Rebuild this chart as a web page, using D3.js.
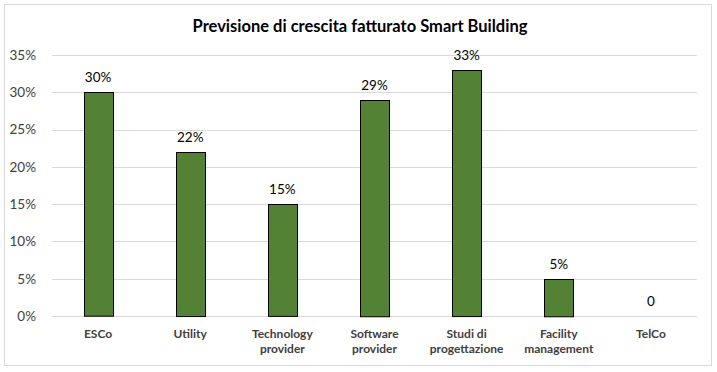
<!DOCTYPE html>
<html>
<head>
<meta charset="utf-8">
<script src="https://cdn.jsdelivr.net/npm/d3@7"></script>
<style>
  body { margin: 0; background: #fff; }
  svg { font-family: Lato, "Open Sans", sans-serif; }
</style>
</head>
<body>
<svg id="chart" width="717" height="372"></svg>
<script>
const categories = [
  ["ESCo"],
  ["Utility"],
  ["Technology", "provider"],
  ["Software", "provider"],
  ["Studi di", "progettazione"],
  ["Facility", "management"],
  ["TelCo"],
];
const values = [0.30, 0.22, 0.15, 0.29, 0.33, 0.05, 0];
const valueLabels = ["30%", "22%", "15%", "29%", "33%", "5%", "0"];
const yTicks = [0, 0.05, 0.10, 0.15, 0.20, 0.25, 0.30, 0.35];
const title = "Previsione di crescita fatturato Smart Building";

const svg = d3.select("#chart");
const W = 717, H = 372;
const m = { top: 55, right: 20, bottom: 56, left: 52 };

// chart frame
svg.append("rect")
  .attr("x", 4.5).attr("y", 4.5)
  .attr("width", W - 10).attr("height", H - 11)
  .attr("fill", "#fff").attr("stroke", "#d9d9d9");

svg.append("text")
  .attr("x", 360).attr("y", 32)
  .attr("text-anchor", "middle")
  .attr("font-size", 16.5).attr("font-weight", "bold")
  .attr("fill", "#000")
  .text(title);

const x = d3.scaleBand()
  .domain(d3.range(categories.length))
  .range([m.left, W - m.right])
  .paddingInner(0.685).paddingOuter(0.3425);

const y = d3.scaleLinear()
  .domain([0, 0.35])
  .range([H - m.bottom, m.top]);

// gridlines
svg.append("g")
  .selectAll("line")
  .data(yTicks)
  .join("line")
  .attr("x1", m.left).attr("x2", W - m.right)
  .attr("y1", d => Math.round(y(d)) + 0.5)
  .attr("y2", d => Math.round(y(d)) + 0.5)
  .attr("stroke", "#d9d9d9");

// y axis labels
const yAxis = svg.append("g")
  .attr("transform", `translate(${m.left - 13},0)`)
  .call(d3.axisLeft(y).tickValues(yTicks).tickFormat(d3.format(".0%")).tickSize(0));
yAxis.select(".domain").remove();
yAxis.selectAll("text")
  .attr("font-family", "Lato, 'Open Sans', sans-serif")
  .attr("font-size", 13.5).attr("fill", "#404040")
  .attr("dx", 0);

// bars
svg.append("g")
  .selectAll("rect")
  .data(values)
  .join("rect")
  .attr("x", (d, i) => Math.round(x(i)) + 0.5)
  .attr("y", d => Math.round(y(d)) + 0.5)
  .attr("width", x.bandwidth())
  .attr("height", d => y(0) - y(d))
  .attr("fill", "#548235")
  .attr("stroke", "#000")
  .attr("stroke-width", 1)
  .attr("display", d => d > 0 ? null : "none");

// value labels
svg.append("g")
  .selectAll("text")
  .data(values)
  .join("text")
  .attr("x", (d, i) => x(i) + x.bandwidth() / 2)
  .attr("y", d => y(d) - 10)
  .attr("text-anchor", "middle")
  .attr("font-size", 13.5).attr("fill", "#000")
  .text((d, i) => valueLabels[i]);

// category labels
const cat = svg.append("g")
  .selectAll("text")
  .data(categories)
  .join("text")
  .attr("x", (d, i) => x(i) + x.bandwidth() / 2)
  .attr("y", y(0) + 22)
  .attr("text-anchor", "middle")
  .attr("font-size", 12).attr("font-weight", "bold")
  .attr("fill", "#404040");
cat.selectAll("tspan")
  .data(d => d)
  .join("tspan")
  .attr("x", function () { return d3.select(this.parentNode).attr("x"); })
  .attr("dy", (d, i) => i === 0 ? 0 : 15)
  .text(d => d);
</script>
</body>
</html>
